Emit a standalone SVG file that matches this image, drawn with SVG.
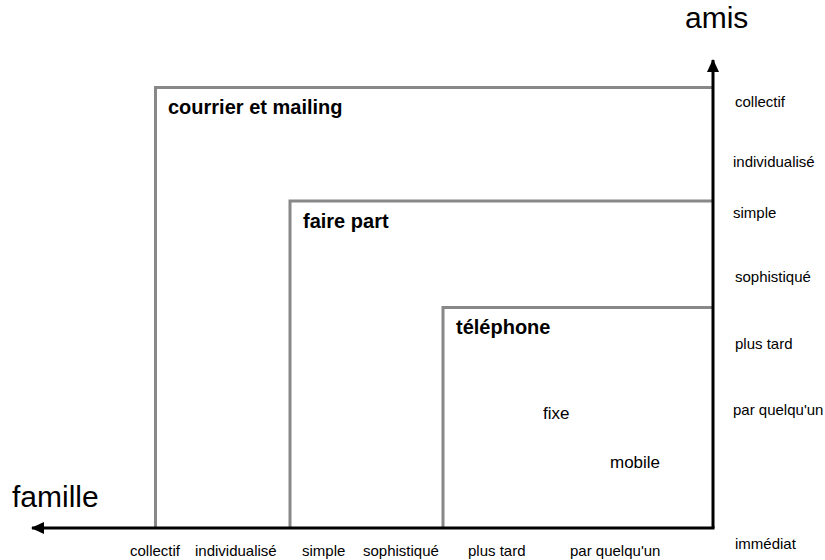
<svg xmlns="http://www.w3.org/2000/svg" width="825" height="560" viewBox="0 0 825 560">
<style>
text{font-family:"Liberation Sans",Arial,sans-serif;fill:#000}
.box{fill:none;stroke:#888;stroke-width:3}
.axis{stroke:#000;stroke-width:3;fill:none}
.title{font-size:20px;font-weight:bold}
.lbl{font-size:15px}
.big{font-size:30px}
.mid{font-size:17px}
</style>
<defs>
<marker id="arr" viewBox="0 0 13 12" refX="12" refY="6" markerWidth="13" markerHeight="12" markerUnits="userSpaceOnUse" orient="auto">
<path d="M0,0 L13,6 L0,12 Z" fill="#000"/>
</marker>
</defs>
<g id="courrier">
<polyline class="box" points="155.5,528 155.5,87.5 713,87.5"/>
<text class="title" x="168" y="114">courrier et mailing</text>
</g>
<g id="fairepart">
<polyline class="box" points="290,528 290,201 713,201"/>
<text class="title" x="303" y="228">faire part</text>
</g>
<g id="telephone">
<polyline class="box" points="443,528 443,307.5 713,307.5"/>
<text class="title" x="456" y="334">téléphone</text>
<text class="mid" x="543" y="419">fixe</text>
<text class="mid" x="610" y="468">mobile</text>
</g>
<g id="axes">
<line class="axis" x1="713" y1="528" x2="713" y2="60" marker-end="url(#arr)"/>
<line class="axis" x1="714.5" y1="528" x2="32" y2="528" marker-end="url(#arr)"/>
<text class="big" x="685" y="28">amis</text>
<text class="big" x="12" y="507">famille</text>
</g>
<g id="labels-x">
<text class="lbl" x="130" y="556">collectif</text>
<text class="lbl" x="195" y="556">individualisé</text>
<text class="lbl" x="302" y="556">simple</text>
<text class="lbl" x="363" y="556">sophistiqué</text>
<text class="lbl" x="468" y="556">plus tard</text>
<text class="lbl" x="570" y="556">par quelqu'un</text>
</g>
<g id="labels-y">
<text class="lbl" x="735" y="107">collectif</text>
<text class="lbl" x="733" y="167">individualisé</text>
<text class="lbl" x="733" y="218">simple</text>
<text class="lbl" x="735" y="282">sophistiqué</text>
<text class="lbl" x="735" y="349">plus tard</text>
<text class="lbl" x="733" y="415">par quelqu'un</text>
<text class="lbl" x="735" y="549">immédiat</text>
</g>
</svg>
